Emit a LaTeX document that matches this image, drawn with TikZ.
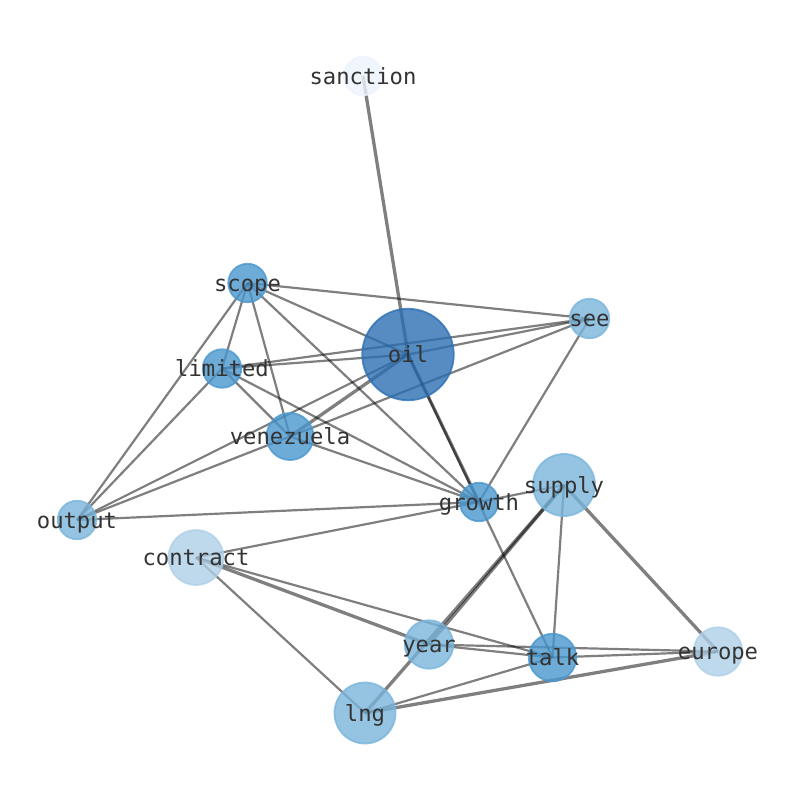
\documentclass[tikz,border=0pt]{standalone}
\usepackage{fontspec}
\newfontfamily\monofont{DejaVu Sans Mono}
\definecolor{cA}{HTML}{2C6FB3}
\definecolor{cB}{HTML}{4A97CE}
\definecolor{cC}{HTML}{79B5DB}
\definecolor{cD}{HTML}{AECFE7}
\definecolor{cE}{HTML}{ECF4FC}
\definecolor{labelgray}{HTML}{333333}
\begin{document}
\begin{tikzpicture}[x=1pt,y=-1pt,
  edge/.style={line width=2.2pt, draw=black, draw opacity=0.5},
  thickedge/.style={line width=3.3pt, draw=black, draw opacity=0.5},
  vtx/.style 2 args={circle, inner sep=0pt, minimum size=#1, draw=#2, fill=#2,
    line width=1.8pt, fill opacity=0.8, draw opacity=0.8},
  lbl/.style={inner sep=0pt, text height=16.9pt, text depth=5.3pt, yshift=-2.5pt,
    text=labelgray, font=\monofont\fontsize{22.2}{26}\selectfont}]
\useasboundingbox (0,0) rectangle (794,790);
% positions
\coordinate (sanction) at (363,76);
\coordinate (scope) at (247.5,283);
\coordinate (see) at (589.5,318.5);
\coordinate (oil) at (408,354.5);
\coordinate (limited) at (222,368.5);
\coordinate (venezuela) at (290,436.5);
\coordinate (output) at (77,520);
\coordinate (growth) at (479,502);
\coordinate (supply) at (564,485);
\coordinate (contract) at (196,557.5);
\coordinate (year) at (429,644.5);
\coordinate (talk) at (552.5,657.5);
\coordinate (europe) at (718,651.5);
\coordinate (lng) at (365,713);
% edges
\draw[thickedge] (sanction) -- (oil);
\draw[edge] (scope) -- (see);
\draw[edge] (scope) -- (oil);
\draw[edge] (scope) -- (limited);
\draw[edge] (scope) -- (venezuela);
\draw[edge] (scope) -- (growth);
\draw[edge] (scope) -- (output);
\draw[edge] (see) -- (oil);
\draw[edge] (see) -- (limited);
\draw[edge] (see) -- (venezuela);
\draw[edge] (see) -- (growth);
\draw[edge] (oil) -- (limited);
\draw[thickedge] (oil) -- (venezuela);
\draw[edge] (oil) -- (output);
\draw[thickedge] (oil) -- (growth);
\draw[edge] (oil) -- (talk);
\draw[edge] (limited) -- (venezuela);
\draw[edge] (limited) -- (growth);
\draw[edge] (limited) -- (output);
\draw[edge] (venezuela) -- (output);
\draw[edge] (venezuela) -- (growth);
\draw[edge] (output) -- (growth);
\draw[edge] (growth) -- (contract);
\draw[edge] (growth) -- (supply);
\draw[thickedge] (contract) -- (year);
\draw[edge] (contract) -- (talk);
\draw[edge] (contract) -- (lng);
\draw[thickedge] (supply) -- (year);
\draw[thickedge] (supply) -- (lng);
\draw[edge] (supply) -- (talk);
\draw[thickedge] (supply) -- (europe);
\draw[edge] (year) -- (talk);
\draw[edge] (year) -- (europe);
\draw[edge] (talk) -- (europe);
\draw[edge] (talk) -- (lng);
\draw[thickedge] (lng) -- (europe);
% node circles
\node[vtx={38.5pt}{cE}] (nsanction) at (sanction) {};
\node[vtx={38.5pt}{cB}] (nscope) at (scope) {};
\node[vtx={39.5pt}{cC}] (nsee) at (see) {};
\node[vtx={91.5pt}{cA}] (noil) at (oil) {};
\node[vtx={38.5pt}{cB}] (nlimited) at (limited) {};
\node[vtx={47pt}{cB}] (nvenezuela) at (venezuela) {};
\node[vtx={38.5pt}{cC}] (noutput) at (output) {};
\node[vtx={38.5pt}{cB}] (ngrowth) at (growth) {};
\node[vtx={62pt}{cC}] (nsupply) at (supply) {};
\node[vtx={55pt}{cD}] (ncontract) at (contract) {};
\node[vtx={48.5pt}{cC}] (nyear) at (year) {};
\node[vtx={47.5pt}{cB}] (ntalk) at (talk) {};
\node[vtx={48.5pt}{cD}] (neurope) at (europe) {};
\node[vtx={61pt}{cC}] (nlng) at (lng) {};
% labels
\node[lbl] (lsanction) at (sanction) {sanction};
\node[lbl] (lscope) at (scope) {scope};
\node[lbl] (lsee) at (see) {see};
\node[lbl] (loil) at (oil) {oil};
\node[lbl] (llimited) at (limited) {limited};
\node[lbl] (lvenezuela) at (venezuela) {venezuela};
\node[lbl] (loutput) at (output) {output};
\node[lbl] (lgrowth) at (growth) {growth};
\node[lbl] (lsupply) at (supply) {supply};
\node[lbl] (lcontract) at (contract) {contract};
\node[lbl] (lyear) at (year) {year};
\node[lbl] (ltalk) at (talk) {talk};
\node[lbl] (leurope) at (europe) {europe};
\node[lbl] (llng) at (lng) {lng};
\end{tikzpicture}
\end{document}
